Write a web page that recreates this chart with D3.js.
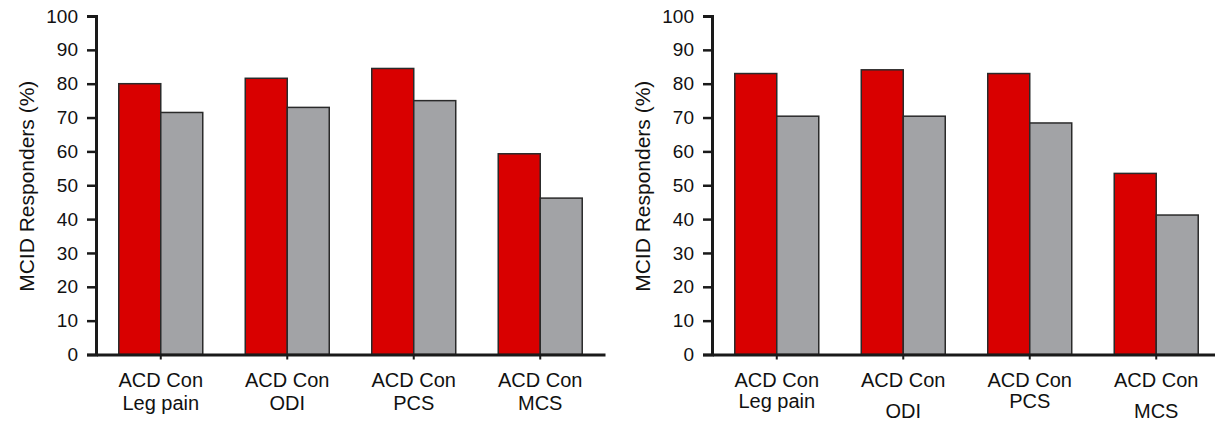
<!DOCTYPE html>
<html>
<head>
<meta charset="utf-8">
<script src="https://cdn.jsdelivr.net/npm/d3@7"></script>
<style>
  body { margin: 0; background: #fff; }
  text { font-family: "Liberation Sans", Arial, sans-serif; fill: #111; }
</style>
</head>
<body>
<div id="ChartArea"></div>
<script>
// ------------------------------------------------------------------
// data
const seriesNames = ["ACD", "Con"]
const groupLabels = ["Leg pain", "ODI", "PCS", "MCS"]
const yTicks = [0, 10, 20, 30, 40, 50, 60, 70, 80, 90, 100]

// left panel
const leftACD = [80, 81.6, 84.5, 59.3]
const leftCon = [71.5, 73, 75, 46.2]
// right panel
const rightACD = [83, 84.1, 83, 53.5]
const rightCon = [70.4, 70.4, 68.4, 41.2]

const colors = { ACD: "#d90000", Con: "#a2a3a6" }

// ------------------------------------------------------------------
const W = 1215, H = 421

const svg = d3.select("#ChartArea").append("svg")
    .attr("width", W)
    .attr("height", H)

function draw_panel (ox, acd, con, secondLineDy)
{
  const x0 = ox + 96        // y axis position
  const yTop = 16, yBot = 354.5

  const y = d3.scaleLinear().domain([0, 100]).range([yBot, yTop])

  const x = d3.scaleBand()
      .domain(groupLabels)
      .range([x0, x0 + 509])
      .paddingInner(0.336)
      .paddingOuter(0.18)

  const x1 = d3.scaleBand()
      .domain(seriesNames)
      .range([0, x.bandwidth()])

  const rows = groupLabels.map(function(g, i) {
    return { group: g, ACD: acd[i], Con: con[i] }
  })

  const g = svg.append("g")

  // bars
  g.selectAll(".grp")
    .data(rows)
    .enter().append("g")
      .attr("transform", function(d) { return "translate(" + x(d.group) + ",0)" })
    .selectAll("rect")
    .data(function(d) { return seriesNames.map(function(s) { return { key: s, value: d[s] } }) })
    .enter().append("rect")
      .attr("x", function(d) { return x1(d.key) })
      .attr("y", function(d) { return y(d.value) })
      .attr("width", x1.bandwidth())
      .attr("height", function(d) { return yBot - y(d.value) })
      .attr("fill", function(d) { return colors[d.key] })
      .attr("stroke", "#2a2a2a")
      .attr("stroke-width", 1.5)

  // x axis
  const xa = g.append("g")
      .attr("transform", "translate(0," + yBot + ")")
      .call(d3.axisBottom(x).tickSize(5).tickSizeOuter(0).tickFormat(""))
  xa.select(".domain").attr("stroke", "#1a1a1a").attr("stroke-width", 3)
  xa.selectAll(".tick line").attr("stroke", "#1a1a1a").attr("stroke-width", 2)

  xa.selectAll(".tick").each(function(d, i) {
    const t = d3.select(this).append("text")
        .attr("text-anchor", "middle")
        .style("font-size", "20px")
        .attr("fill", "#111")
    t.append("tspan").attr("x", 0).attr("y", 32).text(seriesNames.join(" "))
    t.append("tspan").attr("x", 0).attr("y", 55 + secondLineDy[i]).text(d)
  })

  // y axis
  const ya = g.append("g")
      .attr("transform", "translate(" + x0 + ",0)")
      .call(d3.axisLeft(y).tickValues(yTicks).tickSize(9).tickSizeOuter(9).tickPadding(9))
  ya.select(".domain").attr("stroke", "#1a1a1a").attr("stroke-width", 3)
  ya.selectAll(".tick line").attr("stroke", "#1a1a1a").attr("stroke-width", 2.5)
  ya.selectAll(".tick text").style("font-size", "19px").attr("fill", "#111")

  // y title
  g.append("text")
      .attr("transform", "translate(" + (ox + 34) + "," + ((yTop + yBot) / 2 + 1) + ") rotate(-90)")
      .attr("text-anchor", "middle")
      .style("font-size", "21px")
      .text("MCID Responders (%)")
}

draw_panel(0, leftACD, leftCon, [0, 0, 0, 0])
draw_panel(616, rightACD, rightCon, [-2, 8, -2, 8])
</script>
</body>
</html>
